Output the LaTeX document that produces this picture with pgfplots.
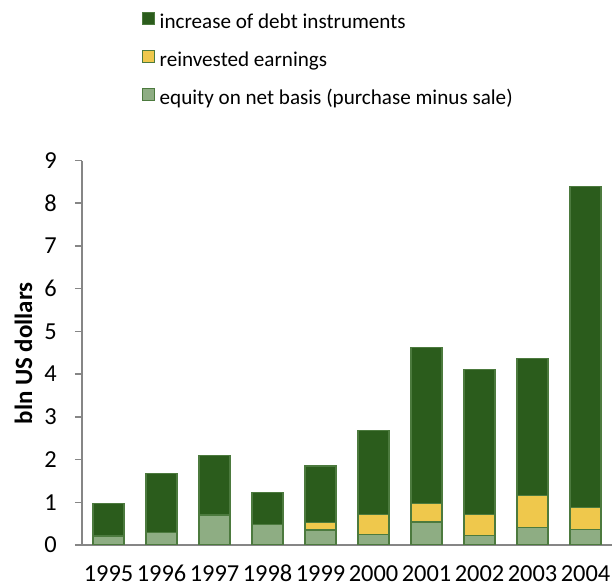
\documentclass[border=0pt]{standalone}
\usepackage{pgfplots}
\pgfplotsset{compat=1.18}
\usepackage{fontspec}
\setmainfont{Carlito}
\definecolor{debt}{RGB}{43,92,28}
\definecolor{reinv}{RGB}{239,200,76}
\definecolor{equity}{RGB}{142,173,131}
\definecolor{edge}{RGB}{76,122,62}
\definecolor{axisgray}{RGB}{134,134,134}
\begin{document}
\begin{tikzpicture}
\useasboundingbox (-82bp,-41bp) rectangle (530bp,545bp);
\begin{axis}[
  at={(0,0)}, anchor=south west,
  scale only axis, width=530bp, height=384.5bp,
  ybar stacked, bar width=31bp,
  xmin=-0.5, xmax=9.5, ymin=0, ymax=9,
  xtick={0,...,9},
  xticklabels={1995,1996,1997,1998,1999,2000,2001,2002,2003,2004},
  ytick={0,...,9},
  axis x line*=bottom, axis y line*=left,
  axis line style={draw=axisgray, line width=1.5bp, -},
  x tick style={draw=none},
  y tick style={draw=axisgray, line width=1.5bp},
  tick align=outside, major tick length=7bp,
  /pgf/number format/assume math mode=true,
  ticklabel style={font=\fontsize{24.5}{29}\selectfont},
  xticklabel style={anchor=base, inner sep=0pt, yshift=-29bp},
  yticklabel style={anchor=east, inner sep=0pt, xshift=-18bp},
  ylabel={\textbf{bln US dollars}},
  ylabel style={font=\fontsize{25}{30}\selectfont, at={(axis description cs:-0.1104,0.4986)}, anchor=center},
  every axis plot/.append style={draw=edge, line width=1.2bp},
  legend style={draw=none, fill=none, inner sep=0pt, outer sep=0pt,
    at={(axis description cs:0.1126,1.387)}, anchor=north west,
    font=\fontsize{21.2}{25}\selectfont, row sep=16bp,
    nodes={inner sep=0pt, text height=16bp, text depth=5bp},
    /tikz/every odd column/.style={column sep=5bp}},
  legend cell align=left,
  reverse legend,
  legend image code/.code={\draw[#1, line width=1bp] (0bp,-1bp) rectangle (12bp,11bp);},
]
\addplot[fill=equity] coordinates {(0,0.21) (1,0.29) (2,0.70) (3,0.48) (4,0.35) (5,0.25) (6,0.54) (7,0.23) (8,0.41) (9,0.37)};
\addplot[fill=reinv] coordinates {(0,0) (1,0) (2,0) (3,0) (4,0.17) (5,0.47) (6,0.43) (7,0.49) (8,0.75) (9,0.50)};
\addplot[fill=debt] coordinates {(0,0.76) (1,1.39) (2,1.40) (3,0.74) (4,1.33) (5,1.96) (6,3.65) (7,3.39) (8,3.20) (9,7.52)};
\legend{equity on net basis (purchase minus sale), reinvested earnings, increase of debt instruments}
\end{axis}
\end{tikzpicture}
\end{document}
